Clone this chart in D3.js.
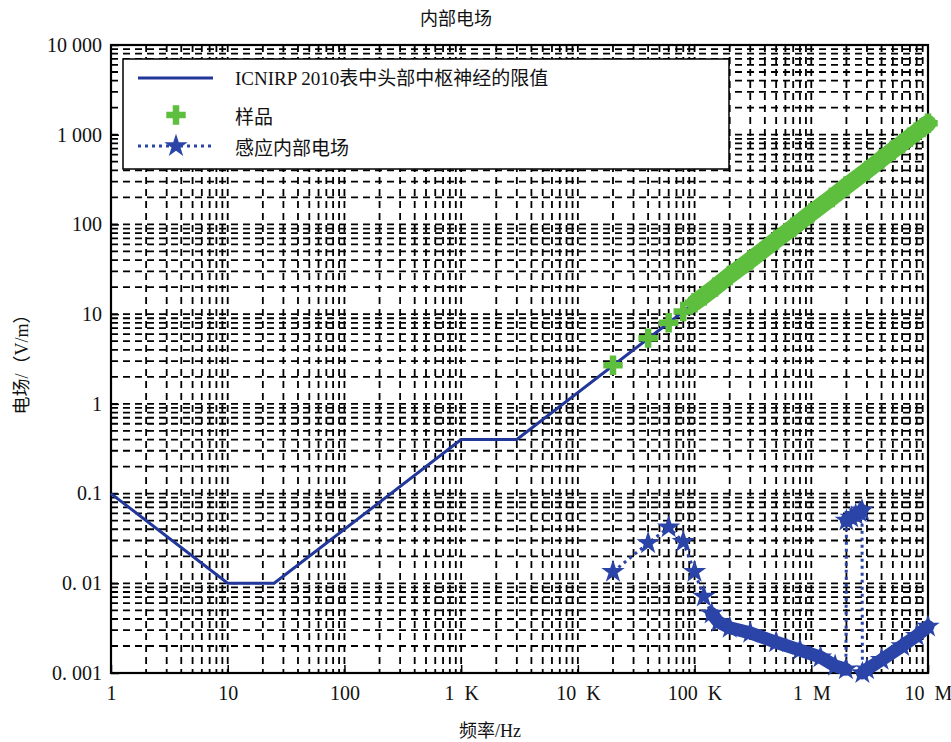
<!DOCTYPE html>
<html lang="zh">
<head>
    <meta charset="UTF-8">
    <title>内部电场</title>
    <script src="https://d3js.org/d3.v7.min.js"></script>
    <style>
        body {
            margin: 0;
            padding: 0;
            background-color: #ffffff;
        }
        svg text {
            font-family: "Liberation Serif", "Noto Sans CJK SC", serif;
            fill: #111;
        }
    </style>
</head>
<body>
    <svg width="951" height="742"></svg>
    <script>
        // ICNIRP 2010 limit (head CNS)
        const limitFreq = [1, 10, 25, 1000, 3000, 1e7];
        const limitE = [0.1, 0.01, 0.01, 0.4, 0.4, 1333];

        // sample (green markers)
        const sampleFreq = [20e3, 40e3, 60e3, 80e3, 100e3, 120e3, 150e3, 200e3, 300e3, 500e3, 700e3,
            1e6, 1.5e6, 2e6, 3e6, 4e6, 5e6, 6e6, 7e6, 8e6, 9e6, 1e7];
        const sampleE = [2.7, 5.4, 8.0, 10.7, 13.4, 16, 20, 27, 40, 67, 93,
            134, 200, 268, 400, 535, 670, 800, 935, 1070, 1200, 1340];

        // induced internal field (blue stars, dotted)
        const inducedFreq = [20e3, 40e3, 60e3, 80e3, 100e3, 120e3, 140e3, 160e3, 200e3, 300e3, 500e3,
            800e3, 1.2e6, 1.6e6, 1.98e6, 2.0e6, 2.2e6, 2.4e6, 2.6e6, 2.72e6, 2.74e6, 3e6, 4e6, 6e6, 8e6, 1e7];
        const inducedE = [0.0134, 0.028, 0.042, 0.029, 0.0134, 0.0071, 0.0046, 0.0037, 0.0032, 0.0028, 0.0022,
            0.0018, 0.0015, 0.0012, 0.0011, 0.05, 0.054, 0.058, 0.062, 0.065, 0.001, 0.0011, 0.0014, 0.002, 0.0026, 0.0033];

        const xTicks = [1, 10, 100, 1e3, 1e4, 1e5, 1e6, 1e7];
        const xTickLabels = ["1", "10", "100", "1  K", "10  K", "100  K", "1  M", "10  M"];
        const yTicks = [0.001, 0.01, 0.1, 1, 10, 100, 1000, 10000];
        const yTickLabels = ["0. 001", "0. 01", "0.1", "1", "10", "100", "1 000", "10 000"];

        const svg = d3.select("svg");
        const plotL = 111, plotR = 928, plotT = 45, plotB = 673;

        const x = d3.scaleLog().domain([1, 1e7]).range([plotL, plotR]);
        const y = d3.scaleLog().domain([0.001, 1e4]).range([plotB, plotT]);

        const limitColor = "#22379a", sampleColor = "#5ebf3e", inducedColor = "#2b44a8";

        // minor grid: 1..9 in every decade
        const gridX = [], gridY = [];
        for (let e = 0; e < 7; e++) for (let k = 1; k <= 9; k++) gridX.push(k * Math.pow(10, e));
        for (let e = -3; e < 4; e++) for (let k = 1; k <= 9; k++) gridY.push(k * Math.pow(10, e));

        const grid = svg.append("g")
            .attr("stroke", "#000")
            .attr("stroke-width", 1.8)
            .attr("stroke-dasharray", "7,5");
        grid.selectAll(".gx").data(gridX.slice(1)).enter().append("line")
            .attr("x1", d => x(d)).attr("x2", d => x(d))
            .attr("y1", plotT).attr("y2", plotB);
        grid.selectAll(".gy").data(gridY.slice(1)).enter().append("line")
            .attr("x1", plotL).attr("x2", plotR)
            .attr("y1", d => y(d)).attr("y2", d => y(d));

        // axes
        svg.append("g")
            .attr("transform", `translate(0,${plotB})`)
            .call(d3.axisBottom(x).tickValues(xTicks).tickFormat((d, i) => xTickLabels[i])
                .tickSize(-8).tickPadding(13))
            .call(g => g.select(".domain").remove())
            .selectAll("text").attr("font-size", 20).style("white-space", "pre");

        svg.append("g")
            .attr("transform", `translate(${plotL},0)`)
            .call(d3.axisLeft(y).tickValues(yTicks).tickFormat((d, i) => yTickLabels[i])
                .tickSize(-8).tickPadding(9))
            .call(g => g.select(".domain").remove())
            .selectAll("text").attr("font-size", 20).style("white-space", "pre");

        svg.selectAll(".tick line").attr("stroke", "#000").attr("stroke-width", 1.5);

        svg.append("rect")
            .attr("x", plotL).attr("y", plotT)
            .attr("width", plotR - plotL).attr("height", plotB - plotT)
            .attr("fill", "none").attr("stroke", "#000").attr("stroke-width", 2.2);

        const line = d3.line().x(d => x(d[0])).y(d => y(d[1]));

        // limit line
        const limitPts = limitFreq.map((f, i) => [f, limitE[i]]);
        svg.append("path").datum(limitPts)
            .attr("d", line).attr("fill", "none")
            .attr("stroke", limitColor).attr("stroke-width", 3);

        // induced field: dotted connector, dense band, markers
        const indPts = inducedFreq.map((f, i) => [f, inducedE[i]]);
        svg.append("path").datum(indPts)
            .attr("d", line).attr("fill", "none")
            .attr("stroke", inducedColor).attr("stroke-width", 3)
            .attr("stroke-dasharray", "3,4");

        const segments = [];
        let cur = [];
        indPts.forEach(p => {
            if (p[0] < 140e3) return;
            if (cur.length && Math.abs(Math.log10(p[1] / cur[cur.length - 1][1])) > 0.5) {
                segments.push(cur);
                cur = [];
            }
            cur.push(p);
        });
        if (cur.length) segments.push(cur);
        svg.selectAll(".indBand").data(segments).enter().append("path")
            .attr("d", line).attr("fill", "none")
            .attr("stroke", inducedColor).attr("stroke-width", 13)
            .attr("stroke-linecap", "round").attr("stroke-linejoin", "round");

        const star = d3.symbol().type(d3.symbolStar).size(170);
        svg.selectAll(".indMark").data(indPts).enter().append("path")
            .attr("d", star)
            .attr("transform", d => `translate(${x(d[0])},${y(d[1])})`)
            .attr("fill", inducedColor);

        // sample: dense band above 100 kHz, markers everywhere
        const samPts = sampleFreq.map((f, i) => [f, sampleE[i]]);
        svg.append("path").datum(samPts.filter(d => d[0] >= 100e3))
            .attr("d", line).attr("fill", "none")
            .attr("stroke", sampleColor).attr("stroke-width", 17)
            .attr("stroke-linecap", "round");

        const cross = d3.symbol().type(d3.symbolCross).size(210);
        svg.selectAll(".samMark").data(samPts).enter().append("path")
            .attr("d", cross)
            .attr("transform", d => `translate(${x(d[0])},${y(d[1])})`)
            .attr("fill", sampleColor);

        // legend
        const lg = svg.append("g");
        lg.append("rect")
            .attr("x", 123).attr("y", 59).attr("width", 606).attr("height", 110)
            .attr("fill", "#fff").attr("stroke", "#000").attr("stroke-width", 1.5);
        lg.append("line").attr("x1", 138).attr("x2", 213).attr("y1", 78).attr("y2", 78)
            .attr("stroke", limitColor).attr("stroke-width", 3);
        lg.append("path").attr("d", cross).attr("transform", "translate(176,115)").attr("fill", sampleColor);
        lg.append("line").attr("x1", 138).attr("x2", 213).attr("y1", 146).attr("y2", 146)
            .attr("stroke", inducedColor).attr("stroke-width", 3).attr("stroke-dasharray", "3,4");
        lg.append("path").attr("d", star).attr("transform", "translate(176,146)").attr("fill", inducedColor);

        const legendText = ["ICNIRP 2010表中头部中枢神经的限值", "样品", "感应内部电场"];
        lg.selectAll(".lt").data(legendText).enter().append("text")
            .attr("x", 235).attr("y", (d, i) => [85, 124, 155][i])
            .attr("font-size", 19).text(d => d);

        // titles
        svg.append("text").attr("x", 456).attr("y", 25).attr("text-anchor", "middle")
            .attr("font-size", 18).text("内部电场");
        svg.append("text").attr("x", 490).attr("y", 737).attr("text-anchor", "middle")
            .attr("font-size", 18).text("频率/Hz");
        svg.append("text").attr("transform", "translate(28,360) rotate(-90)")
            .attr("text-anchor", "middle").attr("font-size", 18).text("电场/（V/m）");
    </script>
</body>
</html>
